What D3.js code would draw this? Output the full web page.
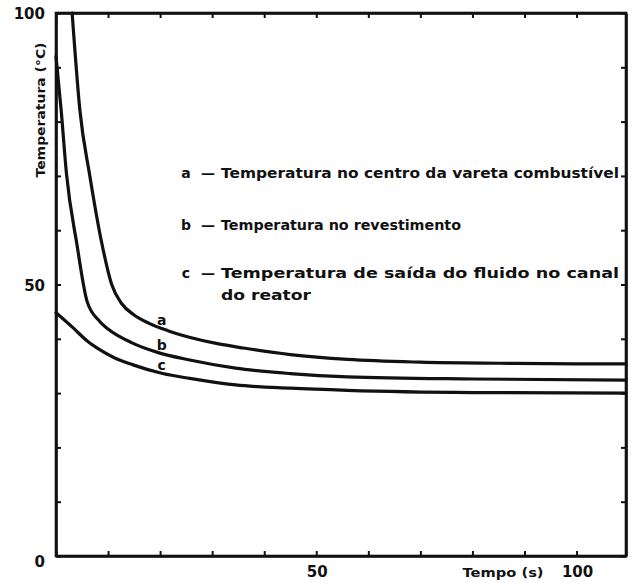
<!DOCTYPE html>
<meta charset="utf-8">
<style>
body { margin: 0; background: #fff; }
svg text { font-family: "DejaVu Sans", sans-serif; font-weight: bold; fill: #111; }
.axis path, .axis line { stroke: #111; }
.curve { fill: none; stroke: #111; stroke-width: 3.2; stroke-linejoin: round; stroke-linecap: round; }
</style>
<svg width="632" height="585"></svg>
<script src="https://d3js.org/d3.v7.min.js"></script>
<script>

////////// Data //////////

// curve a - centro da vareta
var timeA = [3.1, 4.6, 6.5, 8.8, 10.7, 12.6, 15, 18, 21.5, 26, 31, 36, 45, 56, 70, 85, 100, 109.5];
var tempA = [100, 82, 70, 57.6, 50, 46.5, 44.4, 42.8, 41.5, 40.2, 39.1, 38.3, 37.1, 36.2, 35.7, 35.5, 35.4, 35.4];

// curve b - revestimento
var timeB = [0, 1, 2, 4, 6, 8.4, 10, 14.5, 19.5, 25.7, 34.5, 45, 56, 80, 109.5];
var tempB = [92, 82, 70.5, 57.5, 46.8, 43.2, 41.8, 39.3, 37.5, 36.1, 34.6, 33.6, 33.0, 32.6, 32.4];

// curve c - saida do fluido
var timeC = [0, 3.3, 6, 8.4, 11, 14.8, 20.5, 25.7, 34.5, 45, 56, 80, 109.5];
var tempC = [44.8, 42, 39.6, 38, 36.6, 35.2, 33.6, 32.7, 31.5, 30.9, 30.5, 30.1, 30.0];

var curveKeys = ["a", "b", "c"];
var legendLines = [
  "Temperatura no centro da vareta combustível",
  "Temperatura no revestimento",
  "Temperatura  de saída do fluido no canal",
  "do reator"
];

var xTicks = [0, 10, 20, 30, 40, 50, 60, 70, 80, 90, 100];
var yTicks = [0, 10, 20, 30, 40, 50, 60, 70, 80, 90, 100];
var xLabels = [50, 100];
var yLabels = [0, 50, 100];

////////// Layout //////////

var svg = d3.select("svg");
var mLeft = 56, mRight = 626, mTop = 13, mBottom = 556;

var x = d3.scaleLinear().domain([0, 109.5]).range([mLeft, mRight]);
var y = d3.scaleLinear().domain([0, 100]).range([mBottom, mTop]);

// axes: ticks point inwards on all four sides
function styleAxis(g) {
  g.attr("class", "axis");
  g.select(".domain").attr("stroke-width", 2.6);
  g.selectAll(".tick line").attr("stroke-width", 2);
  g.selectAll(".tick text").remove();
}

svg.append("g").attr("transform", "translate(0," + mBottom + ")")
  .call(d3.axisBottom(x).tickValues(xTicks).tickSize(-5).tickSizeOuter(0)).call(styleAxis);
svg.append("g").attr("transform", "translate(0," + mTop + ")")
  .call(d3.axisTop(x).tickValues(xTicks).tickSize(-5).tickSizeOuter(0)).call(styleAxis);
svg.append("g").attr("transform", "translate(" + mLeft + ",0)")
  .call(d3.axisLeft(y).tickValues(yTicks).tickSize(-5).tickSizeOuter(0)).call(styleAxis);
svg.append("g").attr("transform", "translate(" + mRight + ",0)")
  .call(d3.axisRight(y).tickValues(yTicks).tickSize(-5).tickSizeOuter(0)).call(styleAxis);

// close the frame
svg.append("rect")
  .attr("x", mLeft).attr("y", mTop)
  .attr("width", mRight - mLeft).attr("height", mBottom - mTop)
  .attr("fill", "none").attr("stroke", "#111").attr("stroke-width", 2.6);

// tick labels
svg.selectAll(".ylab").data(yLabels).enter().append("text")
  .attr("class", "ylab")
  .attr("x", mLeft - 11)
  .attr("y", function(d) { return y(d) + (d === 0 ? 11 : 6); })
  .attr("text-anchor", "end")
  .style("font-size", "15px")
  .text(function(d) { return d; });

svg.selectAll(".xlab").data(xLabels).enter().append("text")
  .attr("class", "xlab")
  .attr("x", function(d) { return x(d) + 1; })
  .attr("y", mBottom + 21)
  .attr("text-anchor", "middle")
  .style("font-size", "15px")
  .text(function(d) { return d; });

// axis titles
svg.append("text")
  .attr("x", x(100) - 33).attr("y", mBottom + 21)
  .attr("text-anchor", "end")
  .attr("textLength", 81).attr("lengthAdjust", "spacingAndGlyphs")
  .style("font-size", "13px")
  .text("Tempo (s)");

svg.append("text")
  .attr("transform", "translate(45,110) rotate(-90)")
  .attr("text-anchor", "middle")
  .attr("textLength", 135).attr("lengthAdjust", "spacingAndGlyphs")
  .style("font-size", "12px")
  .text("Temperatura (°C)");

////////// Curves //////////

var series = [
  { key: "a", t: timeA, v: tempA },
  { key: "b", t: timeB, v: tempB },
  { key: "c", t: timeC, v: tempC }
];

var line = d3.line()
  .x(function(d) { return x(d[0]); })
  .y(function(d) { return y(d[1]); })
  .curve(d3.curveMonotoneX);

svg.selectAll(".curve").data(series).enter().append("path")
  .attr("class", "curve")
  .attr("d", function(s) { return line(d3.zip(s.t, s.v)); });

// value on a curve at time t (linear between read points)
function valueAt(s, t) {
  var i = d3.bisectRight(s.t, t);
  var t0 = s.t[i - 1], t1 = s.t[i];
  return s.v[i - 1] + (s.v[i] - s.v[i - 1]) * (t - t0) / (t1 - t0);
}

// curve letters sitting on the curves
svg.selectAll(".key").data(series).enter().append("text")
  .attr("class", "key")
  .attr("x", x(20.3))
  .attr("y", function(s) { return y(valueAt(s, 20.3)) - 3; })
  .attr("text-anchor", "middle")
  .style("font-size", "14px")
  .text(function(s) { return s.key; });

////////// Legend //////////

var rowY = [178, 230, 278, 300];
var rowW = [398, 240, 398, 90];

var legend = svg.append("g");
curveKeys.forEach(function(k, i) {
  legend.append("text").attr("x", 186).attr("y", rowY[i])
    .attr("text-anchor", "middle").style("font-size", "14px").text(k);
  legend.append("text").attr("x", 201).attr("y", rowY[i])
    .style("font-size", "14px").text("—");
});
legendLines.forEach(function(txt, i) {
  legend.append("text").attr("x", 221).attr("y", rowY[i])
    .attr("textLength", rowW[i]).attr("lengthAdjust", "spacingAndGlyphs")
    .style("font-size", "13.5px")
    .text(txt);
});

</script>
